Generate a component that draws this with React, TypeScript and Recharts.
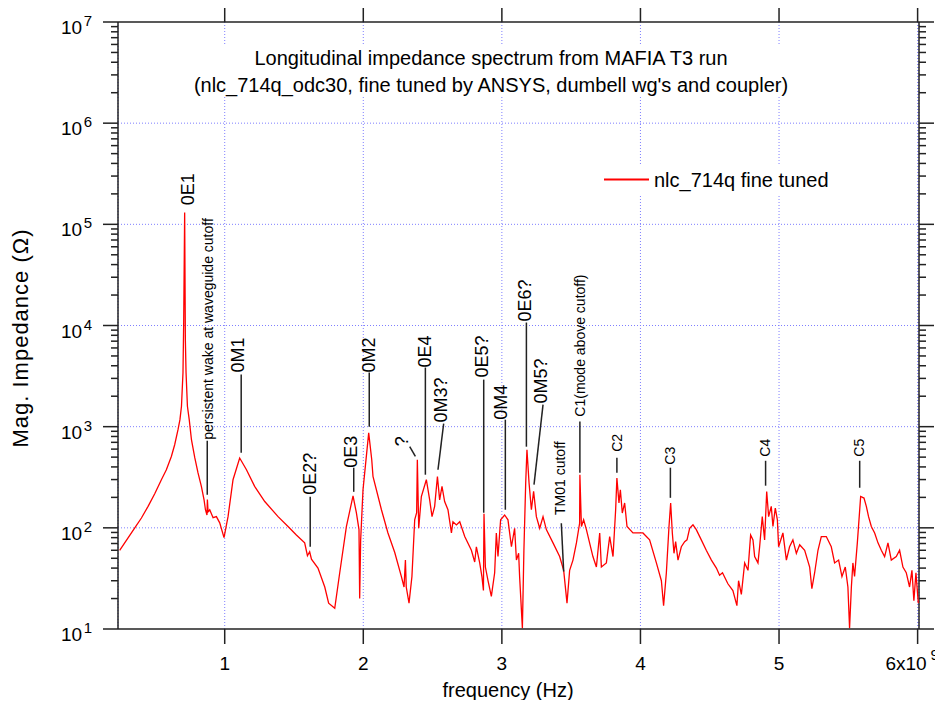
import React from "react";
import {
  LineChart, Line, XAxis, YAxis, CartesianGrid, ReferenceLine, ReferenceDot, Customized,
} from "recharts";

const FONT = '"Liberation Sans", Arial, Helvetica, sans-serif';
const RED = "#ff0000";
const AXIS = "#222222";
const GRID = "#7f7fff";
const PLOT = { left: 110, right: 911, top: 14, bottom: 621 };
const SERIES_NAME = "nlc_714q fine tuned";
const TITLE = [
  "Longitudinal impedance spectrum from MAFIA T3 run",
  "(nlc_714q_odc30, fine tuned by ANSYS, dumbell wg's and coupler)",
];

// frequency in GHz (axis shows Hz, x10^9 on the last tick)
const FREQ_GHZ = [
  0.242, 0.351, 0.399, 0.447, 0.495, 0.543, 0.579, 0.615, 0.639, 0.663, 0.677, 0.688, 0.699, 0.704, 0.711,
  0.716, 0.721, 0.731, 0.744, 0.760, 0.784, 0.807, 0.832, 0.851, 0.861, 0.872, 0.875, 0.880, 0.892,
  0.916, 0.940, 0.964, 0.995, 1.024, 1.060, 1.108, 1.157, 1.216, 1.289,
  1.385, 1.457, 1.517, 1.577, 1.597, 1.613, 1.626, 1.673, 1.722, 1.750,
  1.794, 1.830, 1.878, 1.926, 1.950, 1.969, 1.974, 1.981, 1.998, 2.022,
  2.039, 2.061, 2.070, 2.131, 2.178, 2.227, 2.275, 2.294, 2.304, 2.310,
  2.330, 2.351, 2.371, 2.385, 2.390, 2.400, 2.419, 2.455, 2.479, 2.496,
  2.515, 2.535, 2.551, 2.568, 2.587, 2.611, 2.636, 2.647, 2.672, 2.696,
  2.732, 2.780, 2.804, 2.816, 2.840, 2.856, 2.867, 2.871, 2.881, 2.900,
  2.924, 2.948, 2.960, 2.972, 2.991, 3.020, 3.044, 3.069, 3.092, 3.105,
  3.121, 3.128, 3.148, 3.159, 3.172, 3.181, 3.196, 3.213, 3.229, 3.249,
  3.273, 3.297, 3.321, 3.369, 3.417, 3.446, 3.470, 3.489, 3.513, 3.538,
  3.561, 3.563, 3.574, 3.590, 3.610, 3.633, 3.657, 3.682, 3.706, 3.718,
  3.754, 3.778, 3.802, 3.821, 3.830, 3.845, 3.855, 3.869, 3.886, 3.903,
  3.946, 4.018, 4.066, 4.115, 4.151, 4.167, 4.187, 4.206, 4.218, 4.230,
  4.242, 4.254, 4.271, 4.295, 4.319, 4.336, 4.355, 4.379, 4.403, 4.439,
  4.475, 4.512, 4.548, 4.571, 4.592, 4.631, 4.667, 4.696, 4.708, 4.728,
  4.752, 4.776, 4.795, 4.812, 4.824, 4.848, 4.860, 4.879, 4.896, 4.911,
  4.925, 4.944, 4.956, 4.973, 4.988, 4.997, 5.028, 5.053, 5.076, 5.100,
  5.125, 5.149, 5.185, 5.221, 5.237, 5.257, 5.281, 5.305, 5.341, 5.377,
  5.401, 5.430, 5.454, 5.478, 5.497, 5.509, 5.522, 5.533, 5.545, 5.565,
  5.589, 5.613, 5.630, 5.646, 5.666, 5.690, 5.714, 5.738, 5.762, 5.786,
  5.810, 5.846, 5.870, 5.894, 5.918, 5.942, 5.959, 5.973, 5.988, 6.005,
];

// magnitude of impedance, ohm
const IMPEDANCE = [
  60, 100, 125, 163, 217, 299, 375, 508, 663, 933, 1173, 1590, 3430, 10700, 130600,
  7260, 3430, 1590, 1173, 743, 493, 351, 255, 189, 151, 134, 190, 144, 151,
  126, 129, 112, 80, 129, 299, 490, 375, 257, 182,
  129, 103, 85, 71, 53, 58, 49, 40, 26, 18,
  16, 36, 103, 207, 141, 96, 20, 76, 238, 508,
  867, 471, 322, 151, 89, 57, 33, 26, 48, 26,
  18, 33, 120, 141, 471, 99, 204, 299, 189, 129,
  163, 322, 189, 257, 182, 151, 89, 115, 107, 115,
  82, 60, 46, 65, 45, 33, 24, 138, 41, 30,
  21, 36, 89, 52, 120, 134, 120, 65, 99, 48,
  56, 33, 10.2, 60, 279, 592, 279, 151, 229, 129,
  99, 129, 96, 71, 52, 38, 18, 38, 48, 71,
  111, 335, 103, 120, 96, 71, 52, 41, 89, 41,
  45, 82, 52, 151, 310, 176, 238, 140, 176, 103,
  89, 89, 76, 45, 30, 17, 36, 103, 176, 89,
  56, 73, 48, 65, 73, 76, 99, 107, 96, 76,
  60, 48, 40, 34, 36, 28, 24, 17, 30, 22,
  45, 38, 85, 76, 52, 45, 65, 129, 76, 229,
  129, 163, 103, 157, 120, 65, 89, 48, 65, 76,
  56, 68, 60, 41, 25, 36, 60, 82, 82, 65,
  45, 48, 33, 41, 26, 10.2, 26, 45, 33, 71,
  204, 197, 163, 129, 103, 89, 71, 60, 52, 71,
  48, 52, 60, 41, 36, 26, 38, 19, 36, 18,
];

const X_DOMAIN = [0.23, 6.01];
const Y_DOMAIN = [10, 1e7];
const X_TICKS = [1, 2, 3, 4, 5, 6];
const Y_MAJOR = [10, 100, 1e3, 1e4, 1e5, 1e6, 1e7];
const Y_GRID = [100, 1e3, 1e4, 1e5, 1e6];
const Y_MINOR = Y_MAJOR.slice(0, -1).flatMap((d) => [2, 3, 4, 5, 6, 7, 8, 9].map((m) => m * d));
const Y_TICKS = [...Y_MAJOR, ...Y_MINOR].sort((a, b) => a - b);

// mode tags: text foot (f, z) and leader line [from, to]
const TAGS = [
  { text: "0E1", size: 18, f: 0.733, z: 154000 },
  { text: "persistent wake at waveguide cutoff", size: 14, f: 0.877, z: 743, line: [[0.874, 727], [0.874, 212]] },
  { text: "0M1", size: 18, f: 1.094, z: 3430, line: [[1.119, 3270], [1.119, 553]] },
  { text: "0E2?", size: 18, f: 1.613, z: 212, line: [[1.617, 203], [1.617, 65]] },
  { text: "0E3", size: 18, f: 1.914, z: 393, line: [[1.931, 393], [1.931, 227]] },
  { text: "0M2", size: 18, f: 2.043, z: 3430, line: [[2.043, 3430], [2.043, 1000]] },
  { text: "?", size: 18, f: 2.281, z: 641, line: [[2.335, 634], [2.376, 508]] },
  { text: "0E4", size: 18, f: 2.448, z: 3840, line: [[2.448, 3840], [2.448, 335]] },
  { text: "0M3?", size: 18, f: 2.563, z: 1100, line: [[2.58, 1072], [2.539, 375]] },
  { text: "0E5?", size: 18, f: 2.856, z: 3055, line: [[2.869, 2918], [2.869, 141]] },
  { text: "0M4", size: 18, f: 2.996, z: 1173, line: [[3.025, 1173], [3.025, 151]] },
  { text: "0E6?", size: 18, f: 3.17, z: 10960, line: [[3.177, 10700], [3.177, 634]] },
  { text: "0M5?", size: 18, f: 3.285, z: 1690, line: [[3.297, 1652], [3.232, 267]] },
  { text: "TM01 cutoff", size: 14, f: 3.417, z: 134, line: [[3.429, 111], [3.446, 37]] },
  { text: "C1(mode above cutoff)", size: 14, f: 3.561, z: 1256, line: [[3.563, 1127], [3.563, 351]] },
  { text: "C2", size: 14, f: 3.83, z: 565, line: [[3.83, 493], [3.83, 351]] },
  { text: "C3", size: 14, f: 4.216, z: 421, line: [[4.216, 393], [4.216, 198]] },
  { text: "C4", size: 14, f: 4.896, z: 505, line: [[4.903, 460], [4.903, 261]] },
  { text: "C5", size: 14, f: 5.577, z: 505, line: [[5.582, 460], [5.582, 249]] },
];

const DATA = FREQ_GHZ.map((f, i) => ({ f, z: IMPEDANCE[i] }));

function LeftTick(props: any) {
  const x = Number(props.x);
  const y = Number(props.y);
  const v = props.payload.value;
  const major = Y_MAJOR.includes(v);
  return (
    <g>
      <line x1={x - (major ? 15 : 7)} x2={x} y1={y} y2={y} stroke={AXIS} strokeWidth={1.5} />
      {major && (
        <text x={x - 26} y={y + 12} textAnchor="end" fontSize={19} fill="#000">
          10<tspan dx={1.5} dy={-8} fontSize={15}>{Math.round(Math.log10(v))}</tspan>
        </text>
      )}
    </g>
  );
}

function BottomTick(props: any) {
  const x = Number(props.x);
  const y = Number(props.y);
  const v = props.payload.value;
  const last = v === X_TICKS[X_TICKS.length - 1];
  return (
    <g>
      <line x1={x} x2={x} y1={y} y2={y + 15} stroke={AXIS} strokeWidth={1.5} />
      {last ? (
        <>
          <text x={x + 9} y={y + 41} textAnchor="end" fontSize={19} fill="#000">{v}x10</text>
          <text x={x + 13} y={y + 31} fontSize={15} fill="#000">9</text>
        </>
      ) : (
        <text x={x} y={y + 41} textAnchor="middle" fontSize={19} fill="#000">{v}</text>
      )}
    </g>
  );
}

function TopTick(props: any) {
  const x = Number(props.x);
  const y = Number(props.y);
  return <line x1={x} x2={x} y1={y} y2={y - 14} stroke={AXIS} strokeWidth={1.5} />;
}

// mirrored frame edge on the right (same log mapping as the left axis)
const decade = (v: number) =>
  (Math.log10(v) - Math.log10(Y_DOMAIN[0])) / (Math.log10(Y_DOMAIN[1]) - Math.log10(Y_DOMAIN[0]));
const RightFrame = () => (
  <g>
    <path d={`M${PLOT.right},${PLOT.top}V${PLOT.bottom}`} stroke={AXIS} strokeWidth={1.5} fill="none" />
    {Y_TICKS.map((v) => {
      const y = PLOT.bottom - decade(v) * (PLOT.bottom - PLOT.top);
      const len = Y_MAJOR.includes(v) ? 15 : 7;
      return <path key={v} d={`M${PLOT.right},${y}H${PLOT.right + len}`} stroke={AXIS} strokeWidth={1.5} fill="none" />;
    })}
  </g>
);

const Overlay = () => (
  <g>
    <RightFrame />
    <rect x={172} y={36} width={620} height={53} fill="#fff" />
    <text x={483} y={57} textAnchor="middle" fontSize={20} fill="#000">{TITLE[0]}</text>
    <text x={483} y={84} textAnchor="middle" fontSize={20} fill="#000">{TITLE[1]}</text>
    <rect x={592} y={157} width={236} height={29} fill="#fff" />
    <line x1={596} x2={641} y1={171.5} y2={171.5} stroke={RED} strokeWidth={2} />
    <text x={646} y={179} fontSize={20} fill="#000">{SERIES_NAME}</text>
    <text x={12} y={330} textAnchor="middle" dominantBaseline="central" fontSize={22} letterSpacing={1}
      fill="#000" transform="rotate(-90 12 330)">Mag. Impedance (Ω)</text>
    <text x={500} y={689} textAnchor="middle" fontSize={20} fill="#000">frequency (Hz)</text>
  </g>
);

export default function App() {
  return (
    <div style={{ width: 935, height: 700, fontFamily: FONT, marginBottom: -8 }}>
      <LineChart width={935} height={700} data={DATA}
        margin={{ top: 0, right: 935 - PLOT.right, bottom: 29, left: 30 }}>
        <CartesianGrid horizontal={false} stroke={GRID} strokeDasharray="1 2" />
        {Y_GRID.map((v) => (
          <ReferenceLine key={v} y={v} stroke={GRID} strokeDasharray="1 2" />
        ))}
        <XAxis dataKey="f" type="number" domain={X_DOMAIN} ticks={X_TICKS} interval={0}
          allowDataOverflow height={50} tickSize={0} tickMargin={0} tickLine={false}
          axisLine={{ stroke: AXIS, strokeWidth: 1.5 }} tick={<BottomTick />} />
        <XAxis xAxisId="top" orientation="top" dataKey="f" type="number" domain={X_DOMAIN}
          ticks={X_TICKS} interval={0} allowDataOverflow height={14} tickSize={0} tickMargin={0}
          tickLine={false} axisLine={{ stroke: AXIS, strokeWidth: 1.5 }} tick={<TopTick />} />
        <YAxis scale="log" domain={Y_DOMAIN} ticks={Y_TICKS} interval={0} allowDataOverflow
          width={80} tickSize={0} tickMargin={0} tickLine={false}
          axisLine={{ stroke: AXIS, strokeWidth: 1.5 }} tick={<LeftTick />} />
        {/* invisible copy so the top frame axis gets a domain */}
        <Line xAxisId="top" type="linear" dataKey="z" stroke="none" strokeWidth={0}
          dot={false} activeDot={false} legendType="none" isAnimationActive={false} />
        <Line type="linear" dataKey="z" name={SERIES_NAME} stroke={RED} strokeWidth={1.3}
          dot={false} activeDot={false} isAnimationActive={false} />
        {TAGS.filter((t) => t.line).map((t) => (
          <ReferenceLine key={"l" + t.text}
            segment={[{ x: t.line![0][0], y: t.line![0][1] }, { x: t.line![1][0], y: t.line![1][1] }]}
            stroke={AXIS} strokeWidth={1.5} ifOverflow="visible" />
        ))}
        {TAGS.map((t) => (
          <ReferenceDot key={"t" + t.text} x={t.f} y={t.z} r={0} ifOverflow="visible"
            shape={(p: any) => (
              <text x={p.cx} y={p.cy} transform={`rotate(-90 ${p.cx} ${p.cy})`} textAnchor="start"
                dominantBaseline="central" fontSize={t.size} fill="#000">{t.text}</text>
            )} />
        ))}
        <Customized component={Overlay} />
      </LineChart>
    </div>
  );
}
